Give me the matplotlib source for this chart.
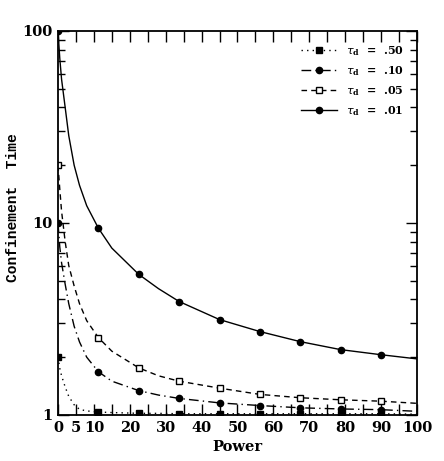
import matplotlib
matplotlib.use("Agg")
import matplotlib.pyplot as plt
from matplotlib.ticker import LogLocator, NullFormatter, FixedLocator

# ---- data ----
power = [0, 0.5, 1, 2, 3, 4.5, 6, 8, 11.25, 15, 22.5, 28, 33.75, 45, 56.25, 67.5, 78.75, 90, 100]
tau_d_50 = [2.0, 1.75, 1.6, 1.4, 1.25, 1.13, 1.07, 1.05, 1.036, 1.03, 1.02, 1.02, 1.015, 1.015, 1.015, 1.015, 1.015, 1.015, 1.01]
tau_d_10 = [10, 7.5, 6.2, 4.8, 3.8, 2.9, 2.4, 2.0, 1.68, 1.50, 1.34, 1.27, 1.22, 1.156, 1.12, 1.09, 1.075, 1.066, 1.045]
tau_d_05 = [20, 15, 11.5, 8.0, 6.0, 4.7, 3.8, 3.1, 2.53, 2.15, 1.76, 1.60, 1.50, 1.38, 1.28, 1.23, 1.20, 1.18, 1.15]
tau_d_01 = [100, 72, 56, 40, 28.5, 20, 15.7, 12.3, 9.4, 7.4, 5.4, 4.55, 3.9, 3.14, 2.72, 2.41, 2.19, 2.06, 1.96]
marker_idx = [0, 8, 10, 12, 13, 14, 15, 16, 17]
labels = [".50", ".10", ".05", ".01"]
x_tick_vals = list(range(0, 101, 5))
x_tick_labels = ["0", "5", "10", "", "20", "", "30", "", "40", "", "50", "", "60", "", "70", "", "80", "", "90", "", "100"]

serif = "DejaVu Serif"
fig = plt.figure(figsize=(4.44, 4.61), dpi=100)
ax = fig.add_axes([0.1306, 0.0998, 0.8084, 0.833])

ax.plot(power, tau_d_50, color="black", lw=1.0, ls=(0, (1, 3)), marker="s", ms=4.5,
        mfc="black", markevery=marker_idx,
        label=r"$\tau_\mathregular{d}$  =  " + labels[0])
ax.plot(power, tau_d_10, color="black", lw=1.0, ls=(0, (7, 3, 1, 3)), marker="o", ms=4.5,
        mfc="black", markevery=marker_idx,
        label=r"$\tau_\mathregular{d}$  =  " + labels[1])
ax.plot(power, tau_d_05, color="black", lw=1.0, ls=(0, (4, 3)), marker="s", ms=4.5,
        mfc="white", markevery=marker_idx,
        label=r"$\tau_\mathregular{d}$  =  " + labels[2])
ax.plot(power, tau_d_01, color="black", lw=1.0, ls="-", marker="o", ms=4.5,
        mfc="black", markevery=marker_idx,
        label=r"$\tau_\mathregular{d}$  =  " + labels[3])

ax.set_yscale("log")
ax.set_ylim(1, 100)
ax.set_xlim(0, 100)
ax.set_yticks([1, 10, 100])
ax.set_yticklabels(["1", "10", "100"])
ax.yaxis.set_minor_locator(LogLocator(base=10, subs=range(2, 10)))
ax.yaxis.set_minor_formatter(NullFormatter())
ax.xaxis.set_major_locator(FixedLocator(x_tick_vals))
ax.set_xticklabels(x_tick_labels)

ax.tick_params(which="both", direction="in", top=True, right=True, width=1.0)
ax.tick_params(which="major", length=8, labelsize=10.5, pad=4)
ax.tick_params(which="minor", length=5)
for lab in ax.get_xticklabels() + ax.get_yticklabels():
    lab.set_fontfamily(serif)
    lab.set_fontweight("bold")
for sp in ax.spines.values():
    sp.set_linewidth(1.3)

fig.text(237 / 444, 1 - 447 / 461, "Power", fontfamily=serif, fontweight="bold",
         fontsize=10.5, ha="center", va="center")
fig.text(13 / 444, 1 - 208 / 461, "Confinement  Time", fontfamily="Liberation Mono",
         fontweight="bold", fontsize=10.5, ha="center", va="center", rotation=90)

leg = ax.legend(loc="upper right", frameon=False, handlelength=3.2,
                borderaxespad=0.8, labelspacing=0.55,
                prop={"family": serif, "weight": "bold", "size": 8})

fig.savefig("out.png", dpi=100)
